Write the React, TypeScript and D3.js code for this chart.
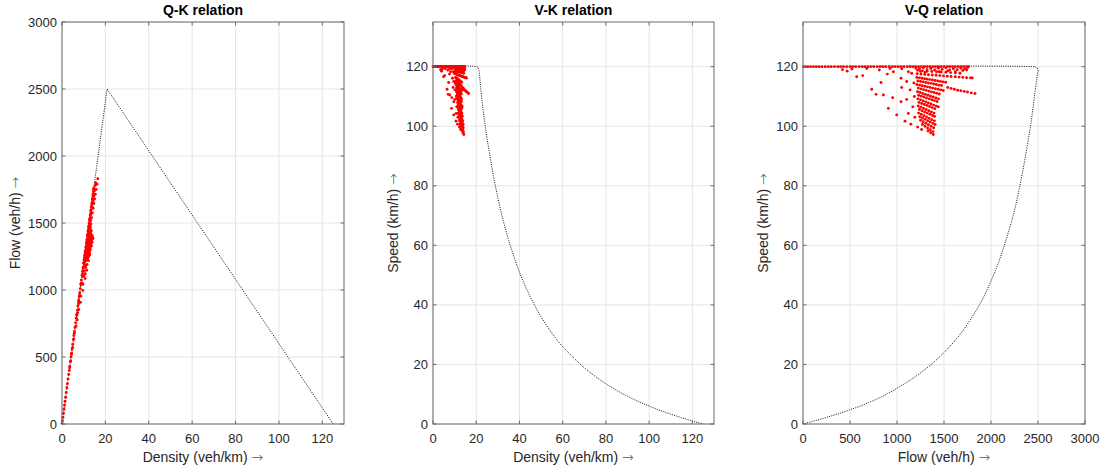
import React from 'react';
import * as d3 from 'd3';

// measured observations: [flow (veh/h), speed (km/h)]
const freeFlowFlows = [
  5, 25, 50, 80, 110, 140, 170, 200, 235, 270, 300, 335, 370, 400, 430, 465, 500, 530,
  560, 595, 630, 660, 690, 720, 755, 790, 820, 850, 880, 915, 950, 980, 1010, 1040,
  1075, 1110, 1140, 1170, 1200, 1230, 1260, 1290, 1320, 1350, 1380, 1410, 1440, 1470,
  1500, 1530, 1560, 1590, 1620, 1650, 1680, 1710, 1740, 1760,
];
const freeFlowSpeed = 120;

const nearFreeFlow: [number, number][] = [
  [1200, 119.5], [1240, 119.2], [1280, 119.6], [1320, 119.0], [1360, 119.4], [1400, 118.9],
  [1440, 119.5], [1480, 119.1], [1520, 119.6], [1560, 118.9], [1600, 119.3], [1640, 119.0],
  [1680, 119.5], [1720, 119.2], [1750, 119.6], [1250, 118.4], [1300, 118.1], [1450, 118.3],
  [1540, 118.6], [1620, 118.3], [1700, 118.7], [1740, 118.9], [420, 119.0], [470, 118.5],
  [520, 119.2],
];

const scatterObs: [number, number][] = [
  [571, 116.6], [635, 117.0], [678, 119.4], [731, 112.4], [777, 110.7], [812, 118.9],
  [830, 114.7], [855, 110.5], [897, 117.5], [908, 106.0], [926, 119.4], [954, 109.6],
  [961, 118.3], [997, 103.8], [1043, 116.1], [1043, 108.2], [1050, 113.0], [1050, 119.3],
  [1085, 101.7], [1103, 109.0], [1103, 115.0], [1121, 104.3], [1121, 118.3], [1139, 112.2],
  [1147, 100.7], [1156, 117.8], [1168, 106.5], [1219, 99.7], [1262, 98.9], [1180, 114.5],
  [1185, 110.0], [1190, 103.0],
];

const streakObs: [number, number][] = [
  // long streaks near free flow
  [1220, 118.8], [1270, 118.6], [1320, 118.5], [1370, 118.4], [1420, 118.3], [1470, 118.2],
  [1520, 118.1], [1570, 118.0], [1620, 117.9], [1670, 117.8],
  [1215, 117.6], [1255, 117.5], [1295, 117.4], [1335, 117.3], [1375, 117.2], [1415, 117.1],
  [1455, 117.0], [1495, 116.9], [1535, 116.8], [1575, 116.7], [1620, 116.6], [1660, 116.5],
  [1700, 116.4], [1740, 116.3], [1780, 116.25], [1800, 116.2],
  // 111 km/h tail
  [1540, 113.0], [1575, 112.7], [1610, 112.4], [1645, 112.1], [1680, 111.9], [1715, 111.7],
  [1750, 111.5], [1790, 111.2], [1830, 111.0],
  // fan
  [1210, 116.4], [1238, 116.25], [1266, 116.1], [1294, 115.95], [1322, 115.8], [1350, 115.65],
  [1378, 115.5], [1406, 115.35], [1434, 115.2], [1462, 115.05], [1490, 114.9], [1518, 114.75],
  [1222, 115.2], [1250, 115.0], [1278, 114.9], [1306, 114.7], [1334, 114.5], [1362, 114.4],
  [1390, 114.2], [1418, 114.0], [1446, 113.8], [1474, 113.7],
  [1212, 114.0], [1240, 113.8], [1268, 113.6], [1296, 113.4], [1324, 113.2], [1352, 113.0],
  [1380, 112.8], [1408, 112.6], [1436, 112.4], [1464, 112.2], [1492, 112.0],
  [1226, 112.8], [1254, 112.55], [1282, 112.3], [1310, 112.05], [1338, 111.8], [1366, 111.55],
  [1394, 111.3], [1422, 111.05], [1450, 110.8],
  [1218, 111.6], [1246, 111.3], [1274, 111.0], [1302, 110.7], [1330, 110.4], [1358, 110.1],
  [1386, 109.8], [1414, 109.5], [1442, 109.2],
  [1230, 110.4], [1258, 110.1], [1286, 109.8], [1314, 109.5], [1342, 109.2], [1370, 108.9],
  [1398, 108.6], [1426, 108.3],
  [1222, 109.2], [1250, 108.85], [1278, 108.5], [1306, 108.15], [1334, 107.8], [1362, 107.45],
  [1390, 107.1], [1418, 106.75], [1440, 106.5],
  [1234, 108.0], [1262, 107.65], [1290, 107.3], [1318, 106.95], [1346, 106.6], [1374, 106.25],
  [1402, 105.9],
  [1226, 106.8], [1254, 106.4], [1282, 106.0], [1310, 105.6], [1338, 105.2], [1366, 104.8],
  [1394, 104.4],
  [1238, 105.6], [1266, 105.2], [1294, 104.8], [1322, 104.4], [1350, 104.0], [1378, 103.6],
  [1400, 103.3],
  [1230, 104.4], [1258, 104.0], [1286, 103.55], [1314, 103.1], [1342, 102.65], [1370, 102.2],
  [1398, 101.8],
  [1242, 103.2], [1270, 102.75], [1298, 102.3], [1326, 101.85], [1354, 101.4], [1382, 100.95],
  [1405, 100.6],
  [1250, 102.0], [1278, 101.5], [1306, 101.0], [1334, 100.5], [1362, 100.0], [1390, 99.5],
  [1270, 100.6], [1298, 100.0], [1326, 99.4], [1354, 98.8], [1382, 98.2],
  [1330, 98.4], [1358, 97.8], [1386, 97.2],
];

// fundamental diagram (model) curves
const qkModel: [number, number][] = [[0, 0], [20.8, 2500], [125, 0]]; // [density, flow]
const vkModel: [number, number][] = [
  [0, 120], [20.3, 120], [20.9, 119.6], [21.4, 118], [22, 113.5], [23, 106.4], [24, 101],
  [25, 96], [27.5, 85.1], [30, 76], [32.5, 68.3], [35, 61.7], [40, 51], [45, 42.7],
  [50, 36], [55, 30.5], [60, 26], [70, 18.9], [80, 13.5], [90, 9.3], [100, 6],
  [110, 3.3], [120, 1], [125, 0],
]; // [density, speed]
const vqModel: [number, number][] = [
  [0, 120], [2440, 120], [2480, 119.8], [2500, 119.0], [2495, 117.5], [2485, 115.5],
  [2470, 112], [2450, 106.9], [2425, 101], [2400, 96], [2350, 87], [2300, 78.9],
  [2250, 71.7], [2200, 66], [2100, 56], [2000, 48], [1900, 41.3], [1800, 36],
  [1700, 31.3], [1600, 27.4], [1500, 24], [1400, 21], [1300, 18.4], [1200, 16],
  [1100, 13.9], [1000, 12], [900, 10.2], [800, 8.6], [700, 7.2], [600, 5.9], [500, 4.8],
  [400, 3.7], [300, 2.7], [200, 1.75], [100, 0.85], [0, 0],
]; // [flow, speed]

const densityTicks = [0, 20, 40, 60, 80, 100, 120];
const flowTicks = [0, 500, 1000, 1500, 2000, 2500, 3000];
const speedTicks = [0, 20, 40, 60, 80, 100, 120];

const observations: [number, number][] = [
  ...freeFlowFlows.map((q) => [q, freeFlowSpeed] as [number, number]),
  ...nearFreeFlow,
  ...scatterObs,
  ...streakObs,
];
// each observation as density / flow / speed
const obs = observations.map(([q, v]) => ({ q, v, k: q / v }));

const FONT = '"Liberation Sans", Arial, Helvetica, sans-serif';
const ARROW_FONT = '"DejaVu Sans", sans-serif';
const TOP = 22;
const BOTTOM = 424;

type PanelProps = {
  left: number;
  right: number;
  title: string;
  xLabel: string;
  yLabel: string;
  yLabelX: number;
  xDomain: [number, number];
  yDomain: [number, number];
  xTicks: number[];
  yTicks: number[];
  model: [number, number][];
  points: [number, number][];
  smooth?: boolean;
};

function Label({ text }: { text: string }) {
  return (
    <>
      {text + ' '}
      <tspan fontFamily={ARROW_FONT} fontWeight="200" fill="#555">
        →
      </tspan>
    </>
  );
}

function Panel(p: PanelProps) {
  const x = d3.scaleLinear().domain(p.xDomain).range([p.left, p.right]);
  const y = d3.scaleLinear().domain(p.yDomain).range([BOTTOM, TOP]);
  const line = d3
    .line<[number, number]>()
    .x((d) => x(d[0]))
    .y((d) => y(d[1]))
    .curve(p.smooth ? d3.curveCatmullRom : d3.curveLinear);
  const tl = 3.5;
  const axisColor = '#6a6a6a';
  const cx = (p.left + p.right) / 2;

  return (
    <g>
      {/* grid */}
      {p.xTicks.map((t) => (
        <line key={'gx' + t} x1={x(t)} x2={x(t)} y1={TOP} y2={BOTTOM} stroke="#e6e6e6" strokeWidth={1} />
      ))}
      {p.yTicks.map((t) => (
        <line key={'gy' + t} x1={p.left} x2={p.right} y1={y(t)} y2={y(t)} stroke="#e6e6e6" strokeWidth={1} />
      ))}

      {/* model curve */}
      <path d={line(p.model) || ''} fill="none" stroke="#111" strokeWidth={1} strokeDasharray="1 1.3" />

      {/* observations */}
      {p.points.map((d, i) => (
        <circle key={i} cx={x(d[0])} cy={y(d[1])} r={1.45} fill="#ff0000" />
      ))}

      {/* box + ticks */}
      <rect x={p.left} y={TOP} width={p.right - p.left} height={BOTTOM - TOP} fill="none" stroke={axisColor} strokeWidth={1} />
      {p.xTicks.map((t) => (
        <g key={'tx' + t}>
          <line x1={x(t)} x2={x(t)} y1={BOTTOM} y2={BOTTOM - tl} stroke={axisColor} />
          <line x1={x(t)} x2={x(t)} y1={TOP} y2={TOP + tl} stroke={axisColor} />
          <text x={x(t)} y={BOTTOM + 19} textAnchor="middle" fontSize={13} fill="#262626" fontFamily={FONT}>
            {t}
          </text>
        </g>
      ))}
      {p.yTicks.map((t) => (
        <g key={'ty' + t}>
          <line x1={p.left} x2={p.left + tl} y1={y(t)} y2={y(t)} stroke={axisColor} />
          <line x1={p.right} x2={p.right - tl} y1={y(t)} y2={y(t)} stroke={axisColor} />
          <text x={p.left - 5} y={y(t)} dy="0.35em" textAnchor="end" fontSize={13} fill="#262626" fontFamily={FONT}>
            {t}
          </text>
        </g>
      ))}

      {/* labels */}
      <text x={cx} y={15} textAnchor="middle" fontSize={14} fontWeight="bold" fill="#000" fontFamily={FONT}>
        {p.title}
      </text>
      <text x={cx} y={462} textAnchor="middle" fontSize={14} fill="#262626" fontFamily={FONT}>
        <Label text={p.xLabel} />
      </text>
      <text
        transform={`translate(${p.yLabelX},${(TOP + BOTTOM) / 2}) rotate(-90)`}
        textAnchor="middle"
        fontSize={14}
        fill="#262626"
        fontFamily={FONT}
      >
        <Label text={p.yLabel} />
      </text>
    </g>
  );
}

export default function App() {
  const qk = obs.map((o) => [o.k, o.q] as [number, number]);
  const vk = obs.map((o) => [o.k, o.v] as [number, number]);
  const vq = obs.map((o) => [o.q, o.v] as [number, number]);
  return (
    <svg
      width={1106}
      height={470}
      style={{ position: 'absolute', left: 0, top: 0, background: '#fff' }}
    >
      <Panel
        left={62}
        right={344}
        title="Q-K relation"
        xLabel="Density (veh/km)"
        yLabel="Flow (veh/h)"
        yLabelX={20}
        xDomain={[0, 130]}
        yDomain={[0, 3000]}
        xTicks={densityTicks}
        yTicks={flowTicks}
        model={qkModel}
        points={qk}
      />
      <Panel
        left={433}
        right={714}
        title="V-K relation"
        xLabel="Density (veh/km)"
        yLabel="Speed (km/h)"
        yLabelX={398}
        xDomain={[0, 130]}
        yDomain={[0, 135]}
        xTicks={densityTicks}
        yTicks={speedTicks}
        model={vkModel}
        points={vk}
        smooth
      />
      <Panel
        left={803}
        right={1085}
        title="V-Q relation"
        xLabel="Flow (veh/h)"
        yLabel="Speed (km/h)"
        yLabelX={768}
        xDomain={[0, 3000]}
        yDomain={[0, 135]}
        xTicks={flowTicks}
        yTicks={speedTicks}
        model={vqModel}
        points={vq}
        smooth
      />
    </svg>
  );
}
